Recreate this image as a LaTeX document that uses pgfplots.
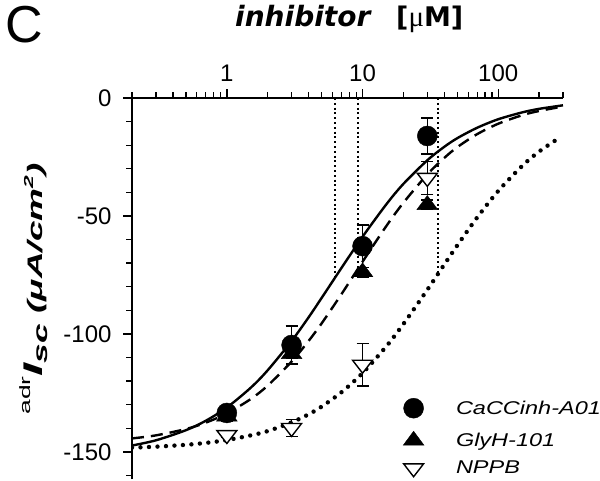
\documentclass[border=0pt]{standalone}
\usepackage{pgfplots}
\pgfplotsset{compat=1.18}
\usepackage{fontspec}
\setmainfont{Liberation Sans}
\newfontfamily\serifmu{Liberation Serif}
\newfontfamily\djv{DejaVu Sans}
\begin{document}
\begin{tikzpicture}[x=1pt,y=1pt]
\path[use as bounding box] (0,0) rectangle (600,-480);
\node[anchor=base west, inner sep=0pt] at (5,-42) {\fontsize{52}{52}\selectfont C};
\node[anchor=base west, inner sep=0pt] at (235,-26) {\djv\fontsize{28}{28}\selectfont\bfseries\itshape inhibitor};
\node[anchor=base west, inner sep=0pt] at (396,-26) {\djv\fontsize{27}{27}\selectfont\bfseries [{\serifmu\mdseries\fontsize{29}{29}\selectfont μ}M]};
\node[rotate=90, anchor=base, inner sep=0pt] at (42,-289) {\scalebox{1.76}[1]{%
  {\fontsize{15}{15}\selectfont\raisebox{12pt}{adr}}%
  {\fontsize{27}{27}\selectfont\bfseries\itshape I}%
  {\fontsize{20}{20}\selectfont\bfseries\itshape\raisebox{-5pt}{sc}}%
  \hspace{6pt}%
  {\fontsize{21}{21}\selectfont\bfseries\itshape (μA/cm\raisebox{9pt}{\fontsize{13}{13}\selectfont 2})}}};
\begin{axis}[
  at={(132pt,-479pt)}, anchor=south west,
  scale only axis, width=431pt, height=381pt,
  xmode=log, xmin=0.2, xmax=300, ymin=-161.5, ymax=0,
  axis x line*=top, axis y line*=left,
  axis line style={line width=1.7pt, black},
  xtick={1,10,100}, xticklabels={1,10,100},
  minor xtick={0.2,0.3,0.4,0.5,0.6,0.7,0.8,0.9,2,3,4,5,6,7,8,9,20,30,40,50,60,70,80,90,200,300},
  ytick={0,-50,-100,-150}, yticklabels={0,-50,-100,-150},
  minor ytick={-10,-20,-30,-40,-60,-70,-80,-90,-110,-120,-130,-140,-160},
  tick align=outside,
  major tick length=9pt, minor tick length=6pt,
  every tick/.style={black, line width=1.3pt},
  tick label style={font=\fontsize{24}{28}\selectfont},
  xticklabel style={yshift=4pt},
  yticklabel style={xshift=-8pt},
  legend image code/.code={\draw[#1] plot coordinates {(0pt,0pt)};},
  reverse legend,
  legend cell align=left,
  legend style={at={(rel axis cs:0.6288,0.2126)}, anchor=north west, draw=none, fill=none,
    inner sep=0pt, row sep=13pt, column sep=0pt, nodes={inner sep=0pt},
    font=\fontsize{18.5}{18.5}\selectfont\itshape},
]
% fitted curves
\addplot[forget plot, black, line width=2.4pt, smooth] coordinates {
(0.2,-147.3) (0.3,-145.1) (0.5,-140.8) (0.7,-136.8) (1,-131.2) (1.5,-122.8) (2,-115.4)
(3,-103.0) (4,-93.0) (5,-84.7) (7,-72.0) (10,-58.8) (15,-45.0) (20,-36.4) (30,-26.4)
(40,-20.7) (50,-17.0) (70,-12.6) (100,-9.0) (150,-6.1) (200,-4.6) (300,-3.1)};
\addplot[forget plot, black, line width=2.4pt, smooth, dash pattern=on 12pt off 7pt] coordinates {
(0.2,-144.3) (0.3,-143.0) (0.5,-140.3) (0.7,-137.6) (1,-133.7) (1.5,-127.6) (2,-121.9)
(3,-111.7) (4,-103.0) (5,-95.5) (7,-83.1) (10,-69.4) (15,-54.2) (20,-44.4) (30,-32.4)
(40,-25.4) (50,-20.8) (70,-15.3) (100,-10.9) (150,-7.3) (200,-5.5) (300,-3.6)};
\addplot[forget plot, black, line width=4.4pt, smooth, line cap=round, dash pattern=on 0pt off 8.5pt] coordinates {
(0.2,-148.2) (0.3,-147.8) (0.5,-147.0) (0.7,-146.2) (1,-145.0) (1.5,-143.0) (2,-141.2)
(3,-137.5) (4,-134.1) (5,-130.8) (7,-124.7) (10,-116.6) (15,-105.2) (20,-95.8) (30,-81.3)
(40,-70.6) (50,-62.4) (70,-50.6) (100,-39.4) (150,-28.8) (200,-22.7) (280,-17.0)};
% IC50 markers
\addplot[forget plot, black, line width=2pt, dash pattern=on 2pt off 2.8pt] coordinates {(6.3,0) (6.3,-76)};
\addplot[forget plot, black, line width=2pt, dash pattern=on 2pt off 2.8pt] coordinates {(9.3,0) (9.3,-72)};
\addplot[forget plot, black, line width=2pt, dash pattern=on 2pt off 2.8pt] coordinates {(36,0) (36,-74.5)};
% data
\addplot[only marks, black, mark=triangle*, mark size=11.5pt, mark options={rotate=180, yscale=0.75, fill=white, line width=1.4pt},
  error bars/.cd, y dir=both, y explicit, error bar style={line width=1.4pt}, error mark options={rotate=90, mark size=6pt, line width=1.4pt}]
  coordinates {(1,-142.8) +- (0,1) (3,-139.8) +- (0,3.6) (10,-113) +- (0,9) (30,-33.8) +- (0,7)};
\addlegendentry{\hspace*{32pt}\scalebox{1.27}[1]{NPPB}}
\addplot[only marks, black, mark=triangle*, mark size=12pt, mark options={yscale=0.78, fill=black},
  error bars/.cd, y dir=both, y explicit, error bar style={line width=1.4pt}, error mark options={rotate=90, mark size=6pt, line width=1.4pt}]
  coordinates {(1,-135) +- (0,2) (3,-108.5) +- (0,2) (10,-73.8) +- (0,2) (30,-45.3) +- (0,2)};
\addlegendentry{\hspace*{32pt}\scalebox{1.27}[1]{GlyH-101}}
\addplot[only marks, black, mark=*, mark size=10pt, mark options={fill=black},
  error bars/.cd, y dir=both, y explicit, error bar style={line width=1.4pt}, error mark options={rotate=90, mark size=6pt, line width=1.4pt}]
  coordinates {(1,-133.5) +- (0,2.5) (3,-104.7) +- (0,8) (10,-62.8) +- (0,9) (30,-16.1) +- (0,7.6)};
\addlegendentry{\hspace*{32pt}\scalebox{1.27}[1]{CaCCinh-A01}}
\end{axis}
\end{tikzpicture}
\end{document}
